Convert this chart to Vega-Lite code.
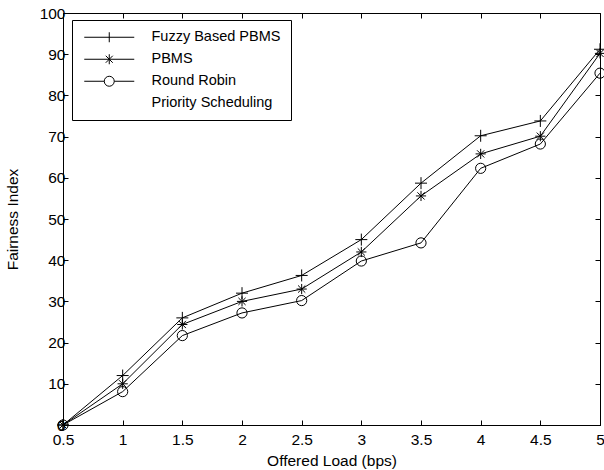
{
  "$schema": "https://vega.github.io/schema/vega-lite/v6.json",
  "width": 537,
  "height": 412,
  "autosize": "none",
  "padding": {"left": 63, "top": 13, "right": 4, "bottom": 45},
  "background": "white",
  "data": {
    "values": [
      {"load": 0.5, "fairness": 0, "series": "Fuzzy Based PBMS"},
      {"load": 1, "fairness": 12, "series": "Fuzzy Based PBMS"},
      {"load": 1.5, "fairness": 26, "series": "Fuzzy Based PBMS"},
      {"load": 2, "fairness": 32, "series": "Fuzzy Based PBMS"},
      {"load": 2.5, "fairness": 36.3, "series": "Fuzzy Based PBMS"},
      {"load": 3, "fairness": 45, "series": "Fuzzy Based PBMS"},
      {"load": 3.5, "fairness": 58.7, "series": "Fuzzy Based PBMS"},
      {"load": 4, "fairness": 70.2, "series": "Fuzzy Based PBMS"},
      {"load": 4.5, "fairness": 73.8, "series": "Fuzzy Based PBMS"},
      {"load": 5, "fairness": 91.2, "series": "Fuzzy Based PBMS"},
      {"load": 0.5, "fairness": 0, "series": "PBMS"},
      {"load": 1, "fairness": 10, "series": "PBMS"},
      {"load": 1.5, "fairness": 24.4, "series": "PBMS"},
      {"load": 2, "fairness": 30, "series": "PBMS"},
      {"load": 2.5, "fairness": 33, "series": "PBMS"},
      {"load": 3, "fairness": 42, "series": "PBMS"},
      {"load": 3.5, "fairness": 55.6, "series": "PBMS"},
      {"load": 4, "fairness": 65.8, "series": "PBMS"},
      {"load": 4.5, "fairness": 70.1, "series": "PBMS"},
      {"load": 5, "fairness": 90.2, "series": "PBMS"},
      {"load": 0.5, "fairness": 0, "series": "Round Robin"},
      {"load": 1, "fairness": 8.1, "series": "Round Robin"},
      {"load": 1.5, "fairness": 21.7, "series": "Round Robin"},
      {"load": 2, "fairness": 27.2, "series": "Round Robin"},
      {"load": 2.5, "fairness": 30.2, "series": "Round Robin"},
      {"load": 3, "fairness": 39.8, "series": "Round Robin"},
      {"load": 3.5, "fairness": 44.2, "series": "Round Robin"},
      {"load": 4, "fairness": 62.3, "series": "Round Robin"},
      {"load": 4.5, "fairness": 68.2, "series": "Round Robin"},
      {"load": 5, "fairness": 85.4, "series": "Round Robin"}
    ]
  },
  "layer": [
    {
      "mark": {"type": "line", "color": "black", "strokeWidth": 1, "clip": false},
      "encoding": {
        "x": {
          "field": "load", "type": "quantitative",
          "scale": {"domain": [0.5, 5], "nice": false, "zero": false},
          "axis": {"orient": "bottom", "title": "Offered Load (bps)", "values": [0.5, 1, 1.5, 2, 2.5, 3, 3.5, 4, 4.5, 5], "format": "~g", "grid": false, "tickSize": -5, "labelPadding": 12, "titlePadding": 6, "labelFlush": false, "labelOverlap": false}
        },
        "y": {
          "field": "fairness", "type": "quantitative",
          "scale": {"domain": [0, 100], "nice": false},
          "axis": {"orient": "left", "title": "Fairness Index", "values": [0, 10, 20, 30, 40, 50, 60, 70, 80, 90, 100], "grid": false, "tickSize": -5, "labelPadding": 3, "titlePadding": 19, "labelFlush": false, "labelOverlap": false}
        },
        "detail": {"field": "series", "type": "nominal"}
      }
    },
    {
      "mark": {"type": "point", "filled": false, "color": "black", "strokeWidth": 1, "size": 144, "opacity": 1, "clip": false},
      "encoding": {
        "x": {
          "field": "load", "type": "quantitative",
          "axis": {"orient": "top", "title": null, "labels": false, "domain": false, "values": [0.5, 1, 1.5, 2, 2.5, 3, 3.5, 4, 4.5, 5], "grid": false, "tickSize": -5}
        },
        "y": {
          "field": "fairness", "type": "quantitative",
          "axis": {"orient": "right", "title": null, "labels": false, "domain": false, "values": [0, 10, 20, 30, 40, 50, 60, 70, 80, 90, 100], "grid": false, "tickSize": -5}
        },
        "shape": {
          "field": "series", "type": "nominal",
          "scale": {
            "domain": ["Fuzzy Based PBMS", "PBMS", "Round Robin", "Priority Scheduling"],
            "range": [
              "M-1,0H1M0,-1V1",
              "M-0.85,0H0.85M0,-0.85V0.85M-0.6,-0.6L0.6,0.6M-0.6,0.6L0.6,-0.6",
              "M-0.85,0A0.85,0.85 0 1 0 0.85,0A0.85,0.85 0 1 0 -0.85,0",
              "M0,0L0,0"
            ]
          },
          "legend": null
        }
      }
    },
    {
      "transform": [{"filter": "datum.fairness < -1000"}],
      "mark": {"type": "point", "filled": false, "color": "black", "strokeWidth": 1},
      "encoding": {
        "shape": {
          "field": "series", "type": "nominal",
          "scale": {
            "domain": ["Fuzzy Based PBMS", "PBMS", "Round Robin", "Priority Scheduling"],
            "range": [
              "M-1,0H9M4,-1V1",
              "M-1,0H9M4,-1V1M3.3,-0.7L4.7,0.7M3.3,0.7L4.7,-0.7",
              "M-1,0H3M5,0H9M3,0A1,1 0 1 0 5,0A1,1 0 1 0 3,0",
              "M0,0L0,0"
            ]
          },
          "legend": {
            "title": null,
            "orient": "none",
            "legendX": 9,
            "legendY": 7,
            "padding": 10,
            "strokeColor": "black",
            "fillColor": "white",
            "symbolSize": 100,
            "symbolStrokeColor": "black",
            "symbolStrokeWidth": 1,
            "symbolFillColor": "transparent",
            "symbolOpacity": 1,
            "labelFont": "Liberation Sans",
            "labelFontSize": 14.5,
            "labelColor": "black",
            "labelOffset": 55,
            "rowPadding": 6,
            "labelLimit": 300
          }
        }
      }
    }
  ],
  "resolve": {"scale": {"shape": "independent"}, "axis": {"x": "independent", "y": "independent"}},
  "config": {
    "view": {"stroke": "black", "strokeWidth": 1},
    "axis": {
      "domainColor": "black",
      "domainWidth": 1,
      "tickColor": "black",
      "tickWidth": 1,
      "labelColor": "black",
      "labelFont": "Liberation Sans",
      "labelFontSize": 15.5,
      "titleFont": "Liberation Sans",
      "titleFontSize": 15.5,
      "titleFontWeight": "normal",
      "titleColor": "black"
    }
  }
}
